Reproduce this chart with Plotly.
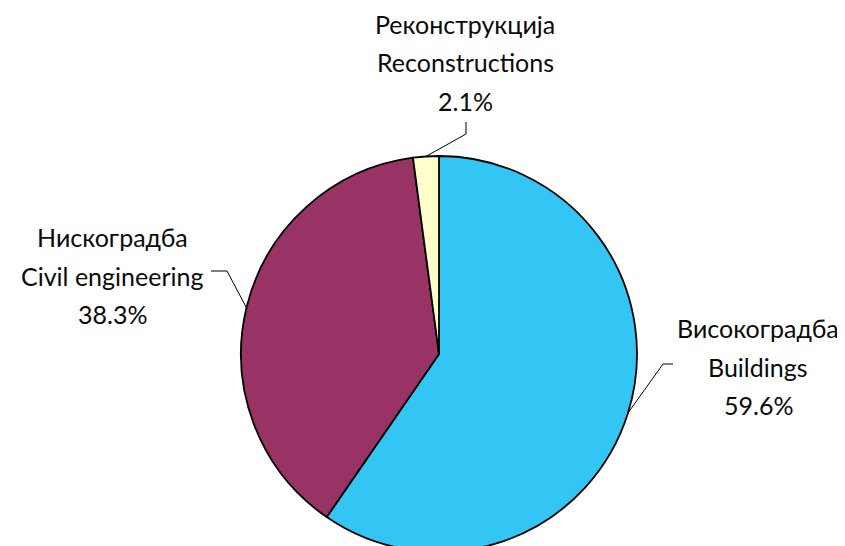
import math
import plotly.graph_objects as go

# ---- data ----
names_cyr = ["Високоградба", "Нискоградба", "Реконструкција"]
names_eng = ["Buildings", "Civil engineering", "Reconstructions"]
shares = [59.6, 38.3, 2.1]
colors = ["#33C5F3", "#993366", "#FFFFCC"]

# ---- layout constants (pixels, in page coordinates; page body has 8px margin) ----
W, H = 845, 546
OFF = 8
CX, CY, R = 439, 354, 198
# label block centres (x, first-line y) and leader elbow points
label_pos = [(758, 328), (112, 237), (465, 24)]
elbows = [[(673, 364), (663, 364)], [(211, 271), (227, 271)], [(466, 122), (466, 134)]]
LINE_GAP = 38.5
FONT = dict(family="Lato, Open Sans, sans-serif", size=25, color="#0a0a0a")


def px(x):
    return (x - OFF) / W


def py(y):
    return 1 - (y - OFF) / H


fig = go.Figure(
    go.Pie(
        labels=names_eng,
        values=shares,
        sort=False,
        direction="clockwise",
        rotation=0,
        marker=dict(colors=colors, line=dict(color="black", width=1.8)),
        textinfo="none",
        hoverinfo="label+percent",
        domain=dict(x=[px(CX - R), px(CX + R)], y=[py(CY + R), py(CY - R)]),
        showlegend=False,
    )
)

annotations = []
shapes = []
total = sum(shares)
cum = 0.0
for i, v in enumerate(shares):
    mid = (cum + v / 2) / total * 2 * math.pi
    cum += v
    ex = CX + R * math.sin(mid)
    ey = CY - R * math.cos(mid)
    lx, ly = label_pos[i]
    for k, t in enumerate([names_cyr[i], names_eng[i], f"{v:.1f}%"]):
        annotations.append(
            dict(
                x=px(lx), y=py(ly + k * LINE_GAP), xref="paper", yref="paper",
                text=t, showarrow=False, xanchor="center", yanchor="middle",
                font=FONT,
            )
        )
    pts = elbows[i] + [(ex, ey)]
    path = "M " + " L ".join(f"{px(a)},{py(b)}" for a, b in pts)
    shapes.append(dict(type="path", path=path, xref="paper", yref="paper",
                       line=dict(color="black", width=1)))

fig.update_layout(
    width=W, height=H,
    margin=dict(l=0, r=0, t=0, b=0),
    paper_bgcolor="white", plot_bgcolor="white",
    annotations=annotations, shapes=shapes,
)

fig.write_html("out.html")
